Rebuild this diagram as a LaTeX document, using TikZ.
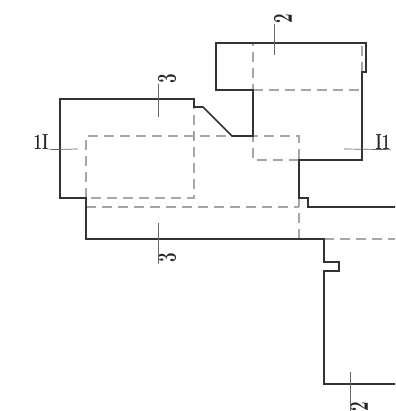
\documentclass[tikz,border=0pt]{standalone}
\newcommand{\tallA}[1]{\scalebox{1}[1.45]{#1}}
\newcommand{\tallB}[1]{\scalebox{1}[1.6]{#1}}
\tikzset{
  outline/.style={line width=1.7pt,draw=black!80},
  hidden/.style={line width=1.3pt,draw=black!35,dash pattern=on 10pt off 6pt},
  leader/.style={line width=0.7pt,draw=black!60},
  secmark/.style={inner sep=0pt,font=\fontsize{15}{15}\bfseries\selectfont,text=black!85},
  secturn/.style={inner sep=0pt,rotate=90,font=\fontsize{17}{17}\bfseries\selectfont,text=black!85},
}
\begin{document}
\begin{tikzpicture}[x=1pt,y=-1pt]
\useasboundingbox (0,0) rectangle (395,411);
\draw[hidden] (86,198) -- (86,136) -- (299,136) -- (299,239);
\draw[hidden] (299,160) -- (253,160) -- (253,43);
\draw[hidden] (253,90) -- (362,90);
\draw[hidden] (362,72) -- (362,43);
\draw[hidden] (194,99) -- (194,198) -- (86,198);
\draw[hidden] (86,207) -- (299,207);
\draw[hidden] (324,239) -- (395,239);
\draw[outline] (395,207) -- (308,207) -- (308,198) -- (299,198) -- (299,160) -- (362,160) -- (362,72) -- (366,72) -- (366,43) -- (216,43) -- (216,90) -- (253,90) -- (253,136) -- (232,136) -- (203,107) -- (194,107) -- (194,99) -- (60,99) -- (60,198) -- (86,198) -- (86,239) -- (324,239) -- (324,262) -- (339,262) -- (339,271) -- (324,271) -- (324,384) -- (395,384);
\node[secmark] (secLeft) at (41,142) {\tallA{1I}};
\node[secmark] (secRight) at (383,142) {\tallA{I1}};
\node[secturn] (secTopA) at (283,19) {\tallB{2}};
\node[secturn] (secBotA) at (359,407) {\tallB{2}};
\node[secturn] (secTopB) at (167,79) {\tallB{3}};
\node[secturn] (secBotB) at (167,258) {\tallB{3}};
\coordinate (endLeft) at (78,149);
\coordinate (endRight) at (344,149);
\coordinate (endTopA) at (274,55);
\coordinate (endBotA) at (350,372);
\coordinate (endTopB) at (158,117);
\coordinate (endBotB) at (158,223);
\draw[leader] (secLeft.south east) -- (endLeft);
\draw[leader] (secRight.south east) -- (endRight);
\foreach \a in {TopA,TopB,BotA,BotB} \draw[leader] (sec\a.north west) -| (end\a);
\end{tikzpicture}
\end{document}
